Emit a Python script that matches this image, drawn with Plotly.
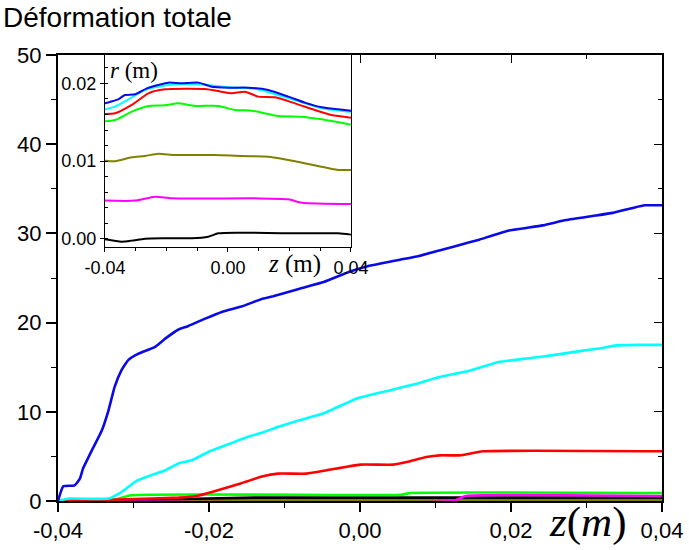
import plotly.graph_objects as go

# ---------------- main plot data ----------------
z_blue = [-0.04, -0.0393, -0.0378, -0.0371, -0.0367, -0.0355, -0.0342, -0.0333, -0.0325, -0.0316,
          -0.0307, -0.0294, -0.0272, -0.0258, -0.0241, -0.0228, -0.0205, -0.0183, -0.0157, -0.0128,
          -0.0115, -0.008, -0.0048, -0.0014, 0.0009, 0.0053, 0.0075, 0.011, 0.0145, 0.0158,
          0.0196, 0.0242, 0.0273, 0.0308, 0.0335, 0.0361, 0.0377, 0.04]
def_blue = [0, 1.65, 1.76, 2.5, 3.6, 5.7, 7.9, 10.2, 12.8, 14.65,
            15.8, 16.5, 17.25, 18.2, 19.2, 19.6, 20.45, 21.2, 21.8, 22.7,
            22.95, 23.8, 24.55, 25.7, 26.3, 27.05, 27.4, 28.2, 29.0, 29.3,
            30.3, 30.9, 31.5, 31.95, 32.3, 32.85, 33.15, 33.15]

z_cyan = [-0.04, -0.0386, -0.0333, -0.0316, -0.0296, -0.0276, -0.0261, -0.0239, -0.0223, -0.0201,
          -0.017, -0.0148, -0.0128, -0.0109, -0.008, -0.0049, -0.0004, 0.0039, 0.0075, 0.0105,
          0.0145, 0.0185, 0.0229, 0.0256, 0.0291, 0.0317, 0.034, 0.0375, 0.04]
def_cyan = [0, 0.27, 0.27, 1.0, 2.25, 2.9, 3.33, 4.26, 4.56, 5.5,
            6.5, 7.2, 7.7, 8.3, 9.05, 9.8, 11.5, 12.4, 13.15, 13.9,
            14.6, 15.6, 16.05, 16.35, 16.8, 17.1, 17.45, 17.5, 17.5]

z_red = [-0.04, -0.031, -0.024, -0.0217, -0.0195, -0.0157, -0.013, -0.0109, -0.0071, -0.0044,
         0.0, 0.0044, 0.0062, 0.0088, 0.0106, 0.0132, 0.0163, 0.04]
def_red = [0, 0.2, 0.38, 0.55, 1.05, 2.0, 2.74, 3.07, 3.07, 3.44,
           4.08, 4.08, 4.37, 4.93, 5.12, 5.12, 5.57, 5.57]

z_green = [-0.04, -0.033, -0.0303, 0.0055, 0.0067, 0.04]
def_green = [0, 0.05, 0.65, 0.7, 0.9, 0.9]

z_black = [-0.04, -0.03, -0.014, 0.04]
def_black = [0, 0.1, 0.38, 0.38]

z_magenta = [-0.04, 0.0123, 0.014, 0.04]
def_magenta = [0, 0, 0.56, 0.56]

z_olive = [-0.04, -0.035, 0.04]
def_olive = [0, 0.08, 0.08]

x_tickvals = [-0.04, -0.02, 0.0, 0.02, 0.04]
x_ticktext = ["-0,04", "-0,02", "0,00", "0,02", "0,04"]
y_tickvals = [0, 10, 20, 30, 40, 50]

# ---------------- inset data ----------------
zi_blue = [-0.04, -0.0373, -0.0357, -0.0335, -0.0302, -0.0264, -0.0227, -0.0194, -0.0151, -0.0096,
           -0.0053, 0.0001, 0.0066, 0.0131, 0.0196, 0.025, 0.0305, 0.0359, 0.04]
r_blue = [0.01743, 0.01773, 0.01794, 0.0185, 0.01859, 0.01936, 0.01979, 0.02009, 0.02, 0.02009,
          0.01957, 0.01944, 0.01944, 0.01914, 0.01829, 0.01752, 0.01692, 0.01666, 0.01649]

zi_cyan = [-0.04, -0.0367, -0.0324, -0.027, -0.0194, -0.0096, 0.0001, 0.0088, 0.0196, 0.0305, 0.04]
r_cyan = [0.01666, 0.017, 0.01794, 0.01914, 0.01979, 0.01987, 0.01949, 0.01931, 0.01812, 0.01679, 0.01632]

zi_red = [-0.04, -0.0367, -0.0313, -0.0259, -0.0205, -0.0075, -0.0021, 0.0012, 0.0055, 0.0099,
          0.0153, 0.0218, 0.0283, 0.0337, 0.04]
r_red = [0.01606, 0.01615, 0.01722, 0.01872, 0.01923, 0.01927, 0.01893, 0.01872, 0.01893, 0.01829,
         0.0182, 0.01743, 0.01657, 0.01593, 0.01559]

zi_green = [-0.04, -0.0367, -0.0313, -0.0259, -0.0205, -0.0162, -0.0107, -0.0031, 0.0023, 0.0077,
            0.0164, 0.024, 0.0305, 0.04]
r_green = [0.01512, 0.01529, 0.01636, 0.01709, 0.01717, 0.01743, 0.0171, 0.0171, 0.01657, 0.01649,
           0.0158, 0.01572, 0.01537, 0.01469]

zi_olive = [-0.04, -0.0367, -0.0313, -0.027, -0.0227, -0.0172, -0.0042, 0.0044, 0.0131, 0.0175,
            0.0261, 0.0359, 0.04]
r_olive = [0.01006, 0.00998, 0.01049, 0.01066, 0.01096, 0.01079, 0.01079, 0.01066, 0.01058, 0.01032,
           0.00964, 0.00887, 0.00887]

zi_magenta = [-0.04, -0.0302, -0.0237, -0.0183, 0.0088, 0.0196, 0.024, 0.04]
r_magenta = [0.00493, 0.00493, 0.00544, 0.00522, 0.00522, 0.0051, 0.00467, 0.0045]

zi_black = [-0.04, -0.0346, -0.0313, -0.027, -0.0205, -0.0118, -0.0064, -0.0031, 0.0034, 0.0196,
            0.0359, 0.04]
r_black = [-0.00004, -0.00034, -0.00021, 0.00004, 0.00009, 0.00009, 0.0003, 0.00073, 0.00081, 0.00073,
           0.00073, 0.00056]

xi_tickvals = [-0.04, 0.0, 0.04]
xi_ticktext = ["-0.04", "0.00", "0.04"]
yi_tickvals = [0.0, 0.01, 0.02]
yi_ticktext = ["0.00", "0.01", "0.02"]

# colours
C_BLUE = "#0a0ae6"
C_CYAN = "#00ffff"
C_RED = "#ff0000"
C_GREEN = "#00ff00"
C_OLIVE = "#808000"
C_MAGENTA = "#ff00ff"
C_BLACK = "#000000"

fig = go.Figure()

main_series = [
    (z_olive, def_olive, C_OLIVE),
    (z_black, def_black, C_BLACK),
    (z_magenta, def_magenta, C_MAGENTA),
    (z_green, def_green, C_GREEN),
    (z_red, def_red, C_RED),
    (z_cyan, def_cyan, C_CYAN),
    (z_blue, def_blue, C_BLUE),
]
for zx, vy, col in main_series:
    fig.add_trace(go.Scatter(x=zx, y=vy, mode="lines", line=dict(color=col, width=2.6, shape="spline", smoothing=0.4),
                             xaxis="x", yaxis="y", showlegend=False, hoverinfo="skip"))

inset_series = [
    (zi_black, r_black, C_BLACK),
    (zi_magenta, r_magenta, C_MAGENTA),
    (zi_olive, r_olive, C_OLIVE),
    (zi_green, r_green, C_GREEN),
    (zi_red, r_red, C_RED),
    (zi_cyan, r_cyan, C_CYAN),
    (zi_blue, r_blue, C_BLUE),
]
for zx, ry, col in inset_series:
    fig.add_trace(go.Scatter(x=zx, y=ry, mode="lines", line=dict(color=col, width=2, shape="spline", smoothing=0.6),
                             xaxis="x2", yaxis="y2", showlegend=False, hoverinfo="skip"))

# dummy trace for overlay tick axes (top/right inward ticks)
fig.add_trace(go.Scatter(x=[], y=[], xaxis="x3", yaxis="y3", showlegend=False))

TICKFONT = dict(family="Liberation Sans, Arial", size=22, color="black")
INSFONT = dict(family="Liberation Sans, Arial", size=18, color="black")

fig.update_layout(
    width=689, height=550,
    margin=dict(l=58, r=27, t=55, b=49, autoexpand=False),
    paper_bgcolor="white", plot_bgcolor="white",
    xaxis=dict(domain=[0, 1], range=[-0.04, 0.04], tickvals=x_tickvals, ticktext=x_ticktext,
               ticks="outside", ticklen=9, tickwidth=1.6, tickcolor="black",
               minor=dict(dtick=0.01, tick0=0, ticks="outside", ticklen=5, tickwidth=1.4, tickcolor="black"),
               showline=True, linewidth=2, linecolor="black", mirror=True, automargin=False,
               showgrid=False, zeroline=False, tickfont=TICKFONT, anchor="y"),
    yaxis=dict(domain=[0, 1], range=[0, 50], tickvals=y_tickvals,
               ticks="outside", ticklen=10, tickwidth=1.6, tickcolor="black",
               minor=dict(dtick=5, tick0=0, ticks="outside", ticklen=5, tickwidth=1.4, tickcolor="black"),
               showline=True, linewidth=2, linecolor="black", mirror=True, automargin=False,
               showgrid=False, zeroline=False, tickfont=TICKFONT, anchor="x"),
    xaxis3=dict(overlaying="x", side="top", anchor="y", range=[-0.04, 0.04], tickvals=x_tickvals,
                showticklabels=False, ticks="inside", ticklen=8, tickwidth=1.4, tickcolor="black",
                minor=dict(dtick=0.01, tick0=0, ticks="inside", ticklen=4, tickwidth=1.2, tickcolor="black"),
                showline=False, showgrid=False, zeroline=False, automargin=False),
    yaxis3=dict(overlaying="y", side="right", anchor="x", range=[0, 50], tickvals=y_tickvals,
                showticklabels=False, ticks="inside", ticklen=8, tickwidth=1.4, tickcolor="black",
                minor=dict(dtick=5, tick0=0, ticks="inside", ticklen=4, tickwidth=1.2, tickcolor="black"),
                showline=False, showgrid=False, zeroline=False, automargin=False),
    xaxis2=dict(domain=[0.0778, 0.485], anchor="y2", range=[-0.04, 0.04],
                tickvals=xi_tickvals, ticktext=xi_ticktext,
                ticks="outside", ticklen=4, tickwidth=1.2, tickcolor="black",
                minor=dict(dtick=0.01, tick0=0, ticks="outside", ticklen=3, tickwidth=1, tickcolor="black"),
                showline=True, linewidth=1.4, linecolor="black", mirror=True, automargin=False,
                showgrid=False, zeroline=False, tickfont=INSFONT),
    yaxis2=dict(domain=[0.5695, 1.0], anchor="x2", range=[-0.00103, 0.02364],
                tickvals=yi_tickvals, ticktext=yi_ticktext,
                ticks="outside", ticklen=4, tickwidth=1.2, tickcolor="black",
                minor=dict(dtick=0.002, tick0=0, ticks="inside", ticklen=3, tickwidth=1, tickcolor="black"),
                showline=True, linewidth=1.4, linecolor="black", mirror=True, automargin=False,
                showgrid=False, zeroline=False, tickfont=INSFONT),
    annotations=[
        dict(text="Déformation totale", xref="paper", yref="paper", x=-0.094, y=1.083,
             xanchor="left", yanchor="middle", showarrow=False,
             font=dict(family="Liberation Sans, Arial", size=28, color="black")),
        dict(text="<i>z</i>(<i>m</i>)", xref="paper", yref="paper", x=0.877, y=-0.047,
             xanchor="center", yanchor="middle", showarrow=False,
             font=dict(family="Liberation Serif, Times New Roman", size=43, color="black")),
        dict(text="<i>r</i> (m)", xref="paper", yref="paper", x=0.083, y=0.966,
             xanchor="left", yanchor="middle", showarrow=False,
             font=dict(family="Liberation Serif, Times New Roman", size=23, color="black")),
        dict(text="<i>z</i> (m)", xref="paper", yref="paper", x=0.392, y=0.531,
             xanchor="center", yanchor="middle", showarrow=False,
             font=dict(family="Liberation Serif, Times New Roman", size=25, color="black")),
    ],
)

fig.write_html(
    "out.html",
    config={"displayModeBar": False},
    post_script=(
        "document.documentElement.style.margin='0';"
        "document.documentElement.style.overflow='hidden';"
        "document.body.style.margin='0';"
        "document.body.style.padding='0';"
        "document.body.style.overflow='hidden';"
    ),
)
